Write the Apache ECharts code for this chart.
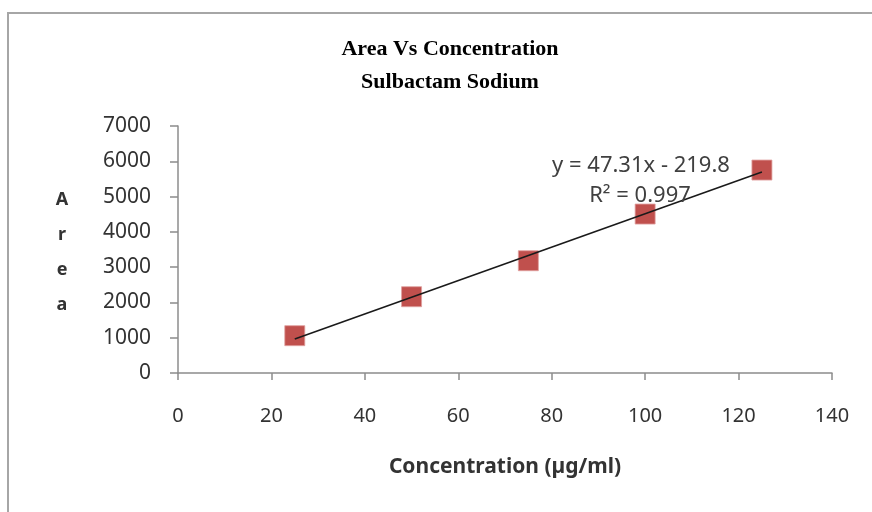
<!DOCTYPE html>
<html>
<head>
<meta charset="utf-8">
<script src="https://cdn.jsdelivr.net/npm/echarts@6/dist/echarts.min.js"></script>
<style>html,body{margin:0;padding:0;background:#fff;}#c{width:872px;height:512px;}</style>
</head>
<body>
<div id="c"></div>
<script>
var concentrations = [25, 50, 75, 100, 125];
var areas = [1057, 2162, 3182, 4505, 5752];
var trendX = [25, 125];
var trendY = [963, 5694];
var xTicks = [0, 20, 40, 60, 80, 100, 120, 140];
var yTicks = [0, 1000, 2000, 3000, 4000, 5000, 6000, 7000];
var titleLines = ['Area Vs Concentration', 'Sulbactam Sodium'];
var equationText = 'y = 47.31x - 219.8';
var r2Text = 'R\u00b2 = 0.997';
var xName = 'Concentration (\u00b5g/ml)';
var yName = 'Area';

var chart = echarts.init(document.getElementById('c'));
var font = 'Noto Sans';
chart.setOption({
  animation: false,
  backgroundColor: '#fff',
  title: {
    text: titleLines.join('\n'),
    left: 445, top: 28, textAlign: 'center',
    textStyle: { fontFamily: 'Liberation Serif', fontWeight: 'bold', fontSize: 22, lineHeight: 33, color: '#000' }
  },
  grid: { left: 178, right: 40, top: 126, bottom: 139, containLabel: false },
  xAxis: {
    type: 'value', min: xTicks[0], max: xTicks[xTicks.length - 1], interval: 20,
    name: xName, nameLocation: 'middle', nameGap: 84,
    nameTextStyle: { fontFamily: font, fontWeight: 'bold', fontSize: 21, color: '#333' },
    axisLine: { show: true, onZero: false, lineStyle: { color: '#8c8c8c', width: 1.5 } },
    axisTick: { show: true, length: 7, lineStyle: { color: '#8c8c8c', width: 1.5 } },
    axisLabel: { margin: 33, fontFamily: font, fontSize: 20, color: '#333' },
    splitLine: { show: false }
  },
  yAxis: {
    type: 'value', min: yTicks[0], max: yTicks[yTicks.length - 1], interval: 1000,
    axisLine: { show: true, onZero: false, lineStyle: { color: '#8c8c8c', width: 1.5 } },
    axisTick: { show: true, length: 8, lineStyle: { color: '#8c8c8c', width: 1.5 } },
    axisLabel: { margin: 27, fontFamily: font, fontSize: 21, color: '#333', formatter: function (v) { return String(v); } },
    splitLine: { show: false }
  },
  graphic: [
    { type: 'rect', shape: { x: 8, y: 13, width: 900, height: 600 }, style: { fill: null, stroke: '#a6a6a6', lineWidth: 2 }, silent: true },
    { type: 'text', x: 62, y: 182, style: { text: yName.split('').join('\n'), fontFamily: font, fontWeight: 'bold', fontSize: 18, lineHeight: 35, fill: '#333', textAlign: 'center', textVerticalAlign: 'top' }, z: 10 },
    { type: 'text', x: 641, y: 166, style: { text: equationText, fontFamily: font, fontSize: 22, fill: '#404040', textAlign: 'center', textVerticalAlign: 'middle' }, z: 10 },
    { type: 'text', x: 640, y: 196, style: { text: r2Text, fontFamily: font, fontSize: 22, fill: '#404040', textAlign: 'center', textVerticalAlign: 'middle' }, z: 10 }
  ],
  series: [
    {
      type: 'line', data: trendX.map(function (x, i) { return [x, trendY[i]]; }),
      showSymbol: false, symbol: 'none', lineStyle: { color: '#1a1a1a', width: 1.6 }, z: 3
    },
    {
      type: 'scatter', data: concentrations.map(function (x, i) { return [x, areas[i]]; }),
      symbol: 'rect', symbolSize: 20,
      itemStyle: { color: '#c0504d', borderColor: '#e0a09e', borderWidth: 0.8, opacity: 1 }, z: 2
    }
  ]
});
</script>
</body>
</html>
